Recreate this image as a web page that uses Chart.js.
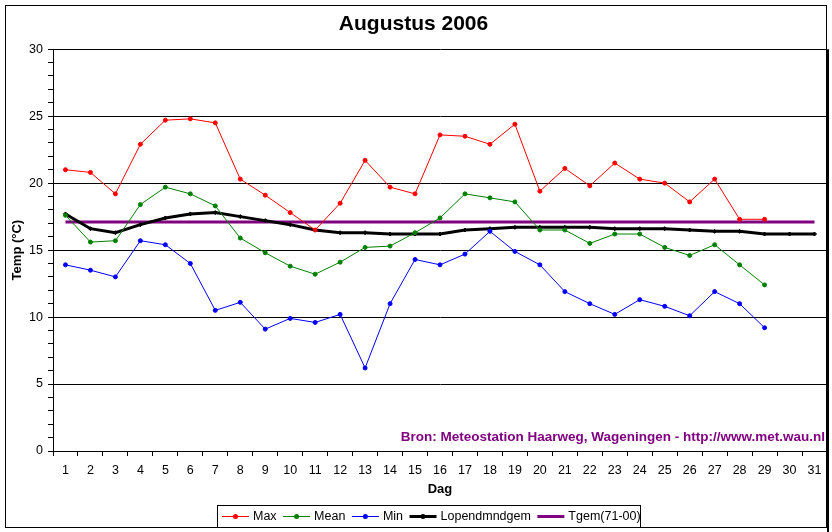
<!DOCTYPE html>
<html><head><meta charset="utf-8">
<script src="https://cdn.jsdelivr.net/npm/chart.js@4"></script>
<style>html,body{margin:0;padding:0;background:#fff}#wrap{width:832px;height:532px}</style>
</head><body><div id="wrap"><canvas id="c" width="832" height="532"></canvas></div>
<script>
const days = ['1','2','3','4','5','6','7','8','9','10','11','12','13','14','15','16','17','18','19','20','21','22','23','24','25','26','27','28','29','30','31'];
const maxT = [21.0,20.8,19.2,22.9,24.7,24.8,24.5,20.3,19.1,17.8,16.5,18.5,21.7,19.7,19.2,23.6,23.5,22.9,24.4,19.4,21.1,19.8,21.5,20.3,20.0,18.6,20.3,17.3,17.3,null,null];
const meanT = [17.6,15.6,15.7,18.4,19.7,19.2,18.3,15.9,14.8,13.8,13.2,14.1,15.2,15.3,16.3,17.4,19.2,18.9,18.6,16.5,16.5,15.5,16.2,16.2,15.2,14.6,15.4,13.9,12.4,null,null];
const minT = [13.9,13.5,13.0,15.7,15.4,14.0,10.5,11.1,9.1,9.9,9.6,10.2,6.2,11.0,14.3,13.9,14.7,16.4,14.9,13.9,11.9,11.0,10.2,11.3,10.8,10.1,11.9,11.0,9.2,null,null];
const lopend = [17.7,16.6,16.3,16.9,17.4,17.7,17.8,17.5,17.2,16.9,16.5,16.3,16.3,16.2,16.2,16.2,16.5,16.6,16.7,16.7,16.7,16.7,16.6,16.6,16.6,16.5,16.4,16.4,16.2,16.2,16.2];
const tgem = [17.1,17.1,17.1,17.1,17.1,17.1,17.1,17.1,17.1,17.1,17.1,17.1,17.1,17.1,17.1,17.1,17.1,17.1,17.1,17.1,17.1,17.1,17.1,17.1,17.1,17.1,17.1,17.1,17.1,17.1,17.1];
const yMajorTicks = [0,5,10,15,20,25,30];
const seriesLabels = ['Max','Mean','Min','Lopendmndgem','Tgem(71-00)'];
const sourceText = 'Bron: Meteostation Haarweg, Wageningen - http://www.met.wau.nl';

const FONT = 'Arial, "Liberation Sans", sans-serif';
Chart.defaults.font.family = FONT;
Chart.defaults.font.size = 12.5;
Chart.defaults.color = '#000';

const bgPlugin = {
  id: 'bg',
  beforeDraw(chart) {
    const c = chart.ctx;
    c.save(); c.fillStyle = '#ffffff'; c.fillRect(0, 0, chart.width, chart.height); c.restore();
  }
};

const decoPlugin = {
  id: 'deco',
  afterDraw(chart) {
    const c = chart.ctx, a = chart.chartArea;
    c.save();
    c.strokeStyle = '#000'; c.lineWidth = 1;
    c.strokeRect(5.5, 5.5, 821, 522);
    c.lineWidth = 2;
    c.beginPath(); c.moveTo(a.right + 1, a.top); c.lineTo(a.right + 1, chart.height); c.stroke();
    c.fillStyle = '#800080';
    c.font = 'bold 13.5px ' + FONT;
    c.textAlign = 'right'; c.textBaseline = 'middle';
    c.fillText(sourceText, 825, 437);
    c.font = '12.5px ' + FONT;
    c.textAlign = 'left';
    c.fillStyle = '#fff';
    c.fillRect(217.5, 505.5, 423, 22);
    c.strokeStyle = '#000'; c.lineWidth = 1;
    c.strokeRect(217.5, 505.5, 423, 22);
    let x = 222; const y = 516.5;
    chart.data.datasets.forEach((ds) => {
      c.strokeStyle = ds.borderColor; c.lineWidth = ds.borderWidth;
      c.beginPath(); c.moveTo(x, y); c.lineTo(x + 27, y); c.stroke();
      if (ds.pointRadius > 0) {
        c.fillStyle = ds.borderColor;
        c.beginPath(); c.arc(x + 13.5, y, 2.5, 0, Math.PI * 2); c.fill();
      }
      c.fillStyle = '#000';
      c.fillText(ds.label, x + 31, y);
      x += 31 + c.measureText(ds.label).width + 6.5;
    });
    c.restore();
  }
};

new Chart(document.getElementById('c'), {
  type: 'line',
  data: {
    labels: days,
    datasets: [
      {label: seriesLabels[0], data: maxT, borderColor: '#ff0000', backgroundColor: '#ff0000', borderWidth: 1, pointRadius: 2, pointBorderWidth: 1, pointStyle: 'circle'},
      {label: seriesLabels[1], data: meanT, borderColor: '#008000', backgroundColor: '#008000', borderWidth: 1, pointRadius: 2, pointBorderWidth: 1, pointStyle: 'circle'},
      {label: seriesLabels[2], data: minT, borderColor: '#0000ff', backgroundColor: '#0000ff', borderWidth: 1, pointRadius: 2, pointBorderWidth: 1, pointStyle: 'circle'},
      {label: seriesLabels[3], data: lopend, borderColor: '#000000', backgroundColor: '#000000', borderWidth: 3, pointRadius: 2, pointBorderWidth: 1, pointStyle: 'rectRot'},
      {label: seriesLabels[4], data: tgem, borderColor: '#800080', backgroundColor: '#800080', borderWidth: 3, pointRadius: 0}
    ]
  },
  options: {
    responsive: false, animation: false, devicePixelRatio: 1,
    layout: {padding: {left: 0, right: 5, top: 0, bottom: 31}},
    elements: {line: {tension: 0}},
    plugins: {
      legend: {display: false},
      tooltip: {enabled: false},
      title: {display: true, text: 'Augustus 2006', color: '#000', font: {size: 21, weight: 'bold'}, padding: {top: 12, bottom: 12}}
    },
    scales: {
      x: {
        type: 'category', offset: true,
        grid: {display: true, offset: true, drawOnChartArea: false, color: '#000', tickLength: 5},
        border: {color: '#000', width: 1},
        ticks: {autoSkip: false, maxRotation: 0, padding: 7, color: '#000'},
        title: {display: true, text: 'Dag', color: '#000', font: {size: 13, weight: 'bold'}, padding: {top: 0, bottom: 4}},
        afterFit: (s) => { s.height = 50; }
      },
      y: {
        min: 0, max: 30,
        ticks: {stepSize: 1, autoSkip: false, padding: 5, color: '#000',
          callback: (v) => yMajorTicks.includes(v) ? String(v) : ''},
        grid: {color: (ctx) => (ctx.tick && yMajorTicks.includes(ctx.tick.value)) ? '#000' : 'rgba(0,0,0,0)', tickColor: '#000', tickLength: 5, lineWidth: 1},
        border: {color: '#000', width: 1},
        title: {display: true, text: 'Temp (°C)', color: '#000', font: {size: 13, weight: 'bold'}, padding: {top: 10, bottom: 0}},
        afterFit: (s) => { s.width = 53; }
      }
    }
  },
  plugins: [bgPlugin, decoPlugin]
});
</script>
</body></html>
